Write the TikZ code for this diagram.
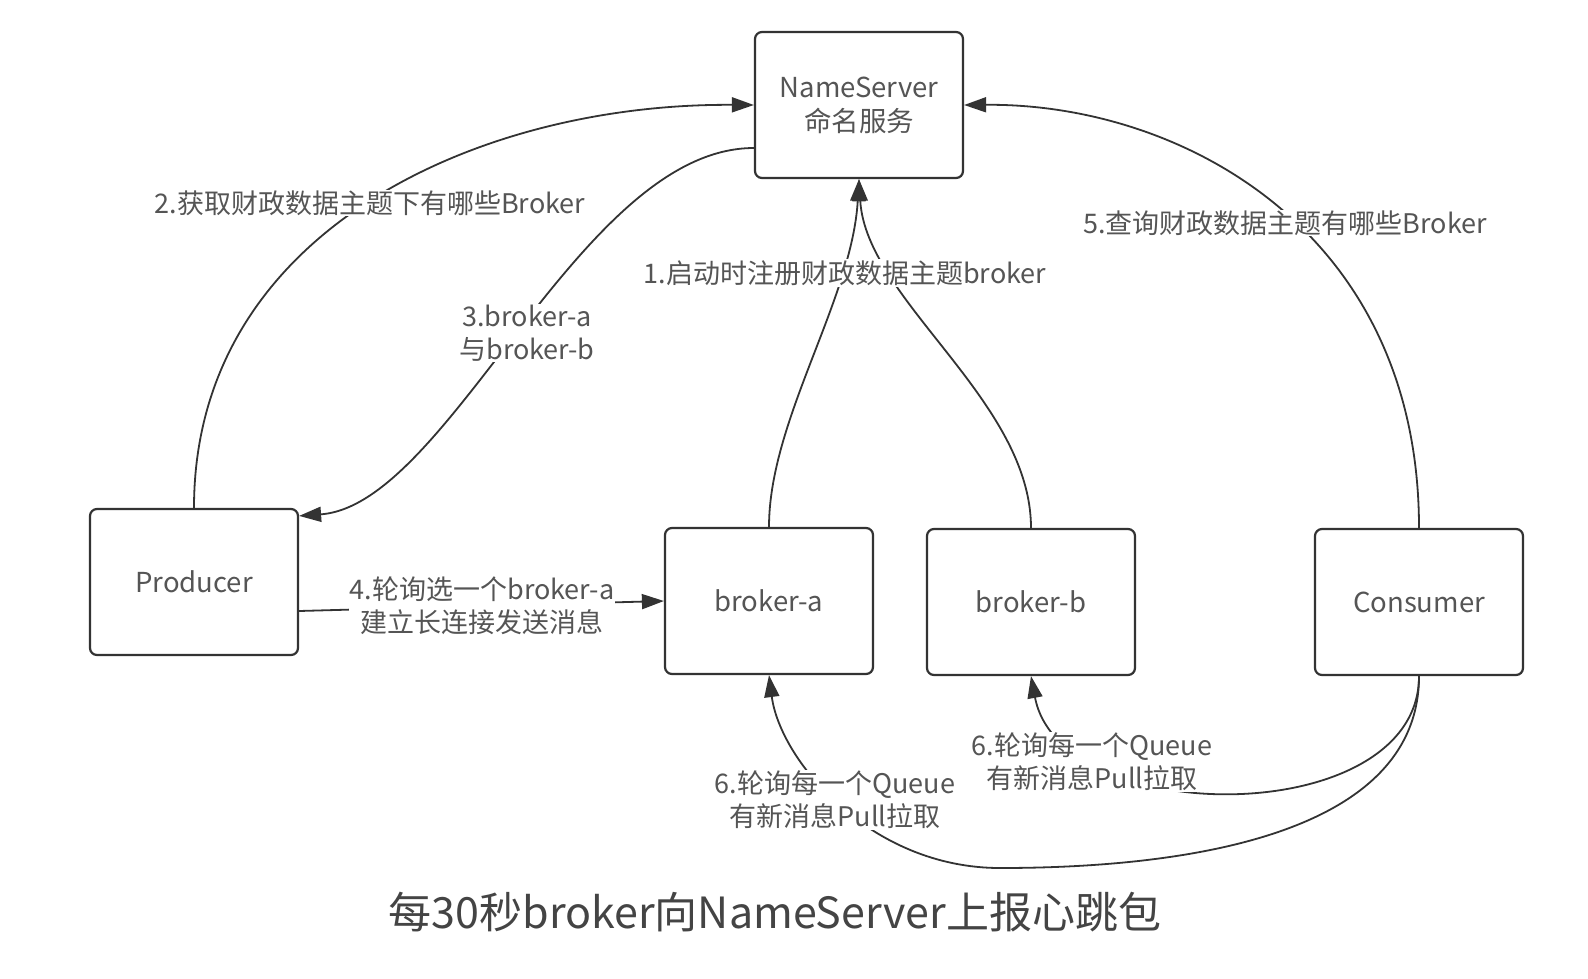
\documentclass[tikz,border=0pt]{standalone}
\usepackage{fontspec}
\setmainfont{Noto Sans CJK SC}
\usetikzlibrary{arrows.meta}
\definecolor{ln}{HTML}{333333}
\definecolor{tx}{HTML}{555555}
\definecolor{tt}{HTML}{444444}
\begin{document}
\begin{tikzpicture}[x=1pt,y=-1pt,
 box/.style={draw=ln,line width=2.2pt,rounded corners=7pt,minimum width=208pt,minimum height=146pt,text=tx,font=\fontsize{27.5}{34}\selectfont,align=center,inner sep=0pt},
 lab/.style={fill=white,text=tx,font=\fontsize{27}{33}\selectfont,align=center,inner sep=1pt},
 conn/.style={draw=ln,line width=1.8pt},
 arr/.style={conn,-{Triangle[length=22pt,width=15pt]}}]
\fill[white] (0,0) rectangle (1588,978);
\useasboundingbox (0,0) rectangle (1588,978);

\node[box] (ns) at (859,105) {NameServer\\命名服务};
\node[box] (pr) at (194,582) {Producer};
\node[box] (ba) at (769,601) {broker-a};
\node[box] (bb) at (1031,602) {broker-b};
\node[box] (cs) at (1419,602) {Consumer};

\draw[arr] (ba.north) .. controls (769,420) and (852,300) .. (ns.south);
\draw[arr] (bb.north) .. controls (1031,400) and (866,300) .. (ns.south);
\draw[arr] (pr.north) .. controls (194,230) and (480,103) .. (ns.west);
\draw[arr] ([yshift=-43pt]ns.west) .. controls (580,148) and (450,505) .. ([yshift=-8pt]pr.north east);
\draw[arr] ([yshift=-29pt]pr.east) -- (ba.west);
\draw[arr] (cs.north) .. controls (1419,230) and (1180,103) .. (ns.east);
\draw[arr] (cs.south) .. controls (1419,830) and (1060,830) .. (bb.south);
\draw[arr] (cs.south) .. controls (1419,830) and (1200,868) .. (1000,868) .. controls (870,868) and (780,760) .. (ba.south);

\node[lab] (l1) at (845,273) {1.启动时注册财政数据主题broker};
\node[lab] (l2) at (370,203) {2.获取财政数据主题下有哪些Broker};
\node[lab] (l3) at (527,333) {3.broker-a\\与broker-b};
\node[lab] (l4) at (482,606) {4.轮询选一个broker-a\\建立长连接发送消息};
\node[lab] (l5) at (1285,223) {5.查询财政数据主题有哪些Broker};
\node[lab] (l6b) at (835,800) {6.轮询每一个Queue\\有新消息Pull拉取};
\node[lab] (l6a) at (1092,762) {6.轮询每一个Queue\\有新消息Pull拉取};

\node[text=tt,font=\fontsize{43}{50}\selectfont] (title) at (775,912) {每30秒broker向NameServer上报心跳包};
\end{tikzpicture}
\end{document}
